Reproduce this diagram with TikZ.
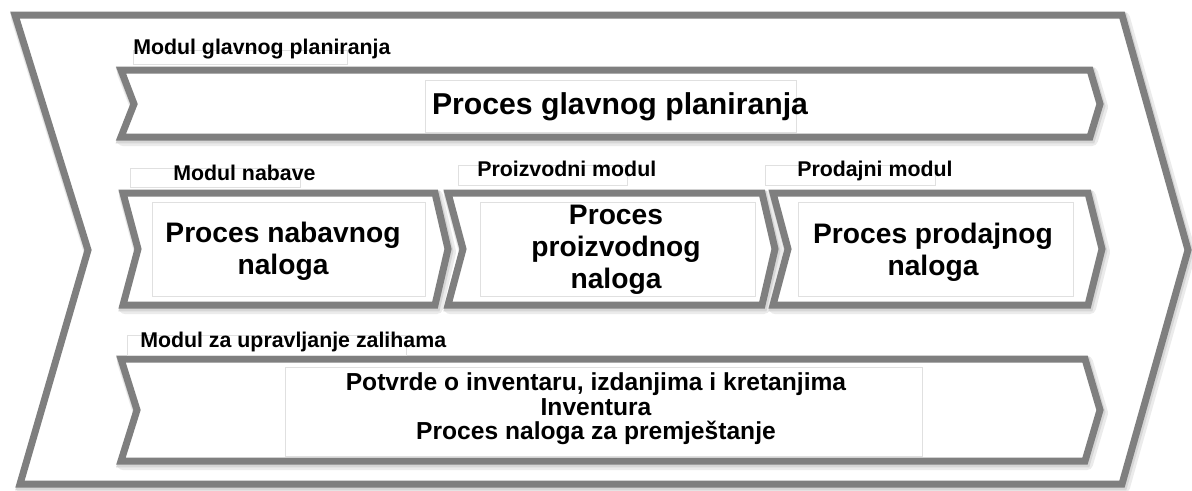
\documentclass[tikz,border=0pt]{standalone}
\usepackage{fontspec}
\setmainfont{Liberation Sans}
\definecolor{chevgray}{HTML}{7F7F7F}
\tikzset{
  chev/.style={draw=chevgray, line width=5.25pt, line join=miter, fill=white},
  chevshadowa/.style={draw=black!8, line width=9pt, line join=round},
  chevshadowb/.style={draw=black!16, line width=6.5pt, line join=miter},
  faint/.style={draw=black!12, line width=0.6pt},
  modlabel/.style={font=\bfseries\fontsize{16}{19}\selectfont, anchor=base west, inner sep=0pt},
  proc/.style={font=\bfseries\fontsize{21.15}{24}\selectfont, align=center, inner sep=0pt},
  bigproc/.style={font=\bfseries\fontsize{22.65}{26}\selectfont, inner sep=0pt},
  invproc/.style={font=\bfseries\fontsize{18.45}{18.4}\selectfont, align=center, inner sep=0pt}
}
\begin{document}
\begin{tikzpicture}[x=0.75pt,y=-0.75pt]
\fill[white] (0,0) rectangle (1192,490);
\useasboundingbox (0,0) rectangle (1192,490);
% outer chevron
\draw[chevshadowa, shift={(2,3)}] (15,15) -- (1122,15) -- (1188,250) -- (1122,484) -- (20,484) -- (88,250) -- cycle;
\draw[chevshadowb, shift={(1,2)}] (15,15) -- (1122,15) -- (1188,250) -- (1122,484) -- (20,484) -- (88,250) -- cycle;
\draw[chev] (15,15) -- (1122,15) -- (1188,250) -- (1122,484) -- (20,484) -- (88,250) -- cycle;
% top arrow
\draw[chevshadowa, shift={(2,3)}] (121,70) -- (1090,70) -- (1100,104) -- (1090,137) -- (121,137) -- (134,104) -- cycle;
\draw[chevshadowb, shift={(1,2)}] (121,70) -- (1090,70) -- (1100,104) -- (1090,137) -- (121,137) -- (134,104) -- cycle;
\draw[chev] (121,70) -- (1090,70) -- (1100,104) -- (1090,137) -- (121,137) -- (134,104) -- cycle;
% middle arrows
\draw[chevshadowa, shift={(2,3)}] (123,193) -- (435,193) -- (448,249) -- (435,305) -- (123,305) -- (138,249) -- cycle;
\draw[chevshadowb, shift={(1,2)}] (123,193) -- (435,193) -- (448,249) -- (435,305) -- (123,305) -- (138,249) -- cycle;
\draw[chev] (123,193) -- (435,193) -- (448,249) -- (435,305) -- (123,305) -- (138,249) -- cycle;
\draw[chevshadowa, shift={(2,3)}] (448,193) -- (762,193) -- (775,249) -- (762,305) -- (448,305) -- (463,249) -- cycle;
\draw[chevshadowb, shift={(1,2)}] (448,193) -- (762,193) -- (775,249) -- (762,305) -- (448,305) -- (463,249) -- cycle;
\draw[chev] (448,193) -- (762,193) -- (775,249) -- (762,305) -- (448,305) -- (463,249) -- cycle;
\draw[chevshadowa, shift={(2,3)}] (773,193) -- (1088,193) -- (1102,249) -- (1088,305) -- (773,305) -- (788,249) -- cycle;
\draw[chevshadowb, shift={(1,2)}] (773,193) -- (1088,193) -- (1102,249) -- (1088,305) -- (773,305) -- (788,249) -- cycle;
\draw[chev] (773,193) -- (1088,193) -- (1102,249) -- (1088,305) -- (773,305) -- (788,249) -- cycle;
% bottom arrow
\draw[chevshadowa, shift={(2,3)}] (121,359) -- (1085,359) -- (1100,410) -- (1085,461) -- (121,461) -- (137,410) -- cycle;
\draw[chevshadowb, shift={(1,2)}] (121,359) -- (1085,359) -- (1100,410) -- (1085,461) -- (121,461) -- (137,410) -- cycle;
\draw[chev] (121,359) -- (1085,359) -- (1100,410) -- (1085,461) -- (121,461) -- (137,410) -- cycle;
% faint text frames
\draw[faint] (133,50) rectangle (347,64);
\draw[faint] (425,80) rectangle (796,132);
\draw[faint] (130,168) rectangle (300,187);
\draw[faint] (458,165) rectangle (627,185);
\draw[faint] (765,165) rectangle (935,185);
\draw[faint] (152,202) rectangle (425,296);
\draw[faint] (480,202) rectangle (755,296);
\draw[faint] (798,202) rectangle (1073,296);
\draw[faint] (127,335) rectangle (406,355);
\draw[faint] (285,367) rectangle (922,456);
% texts
\node[modlabel] (mglav) at (133,54) {Modul glavnog planiranja};
\node[bigproc] (pglav) at (620,107) {Proces glavnog planiranja};
\node[modlabel] (mnab) at (173,180) {Modul nabave};
\node[modlabel] (mproi) at (477,176) {Proizvodni modul};
\node[modlabel] (mprod) at (797,176) {Prodajni modul};
\node[proc] (pnab) at (283,251) {Proces nabavnog\\naloga};
\node[proc] (pproi) at (616,250) {Proces\\proizvodnog\\naloga};
\node[proc] (pprod) at (933,252) {Proces prodajnog\\naloga};
\node[modlabel] (mzal) at (140,347) {Modul za upravljanje zalihama};
\node[invproc] (pzal) at (596,409) {Potvrde o inventaru, izdanjima i kretanjima\\Inventura\\Proces naloga za premještanje};
\end{tikzpicture}
\end{document}
